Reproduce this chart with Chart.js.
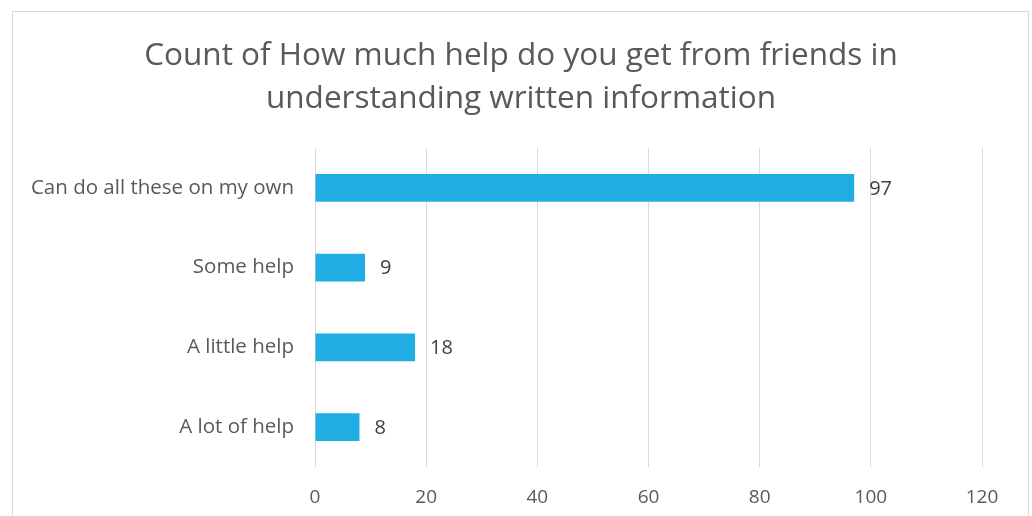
<!DOCTYPE html>
<html><head><meta charset="utf-8">
<script src="https://cdn.jsdelivr.net/npm/chart.js@4/dist/chart.umd.min.js"></script>
<style>
html,body{margin:0;padding:0;background:#fff;overflow:hidden;}
#frame{position:absolute;left:12px;top:11px;width:1017px;height:600px;border:1px solid #d9d9d9;box-sizing:border-box;}
#wrap{position:absolute;left:0;top:0;width:1032px;height:516px;}
</style></head>
<body>
<div id="frame"></div>
<div id="wrap"><canvas id="c" width="1032" height="516"></canvas></div>
<script>
const titleLines = ["Count of How much help do you get from friends in", "understanding written information"];
const categories = ["Can do all these on my own", "Some help", "A little help", "A lot of help"];
const counts = [97, 9, 18, 8];
const xMin = 0, xMax = 120, xStep = 20;

const FONT = "'Open Sans', sans-serif";
const TXT = '#595959';

const labelPlugin = {
  id: 'valueLabels',
  afterDatasetsDraw(chart) {
    const ctx = chart.ctx;
    const meta = chart.getDatasetMeta(0);
    ctx.save();
    ctx.font = "20px " + FONT;
    ctx.fillStyle = '#404040';
    ctx.textAlign = 'left';
    ctx.textBaseline = 'middle';
    meta.data.forEach((bar, i) => {
      ctx.fillText(String(counts[i]), bar.x + 15, bar.y + 1);
    });
    ctx.restore();
  }
};

new Chart(document.getElementById('c'), {
  type: 'bar',
  data: {
    labels: categories,
    datasets: [{
      data: counts,
      backgroundColor: '#1fade4',
      borderWidth: 0,
      barPercentage: 0.7,
      categoryPercentage: 0.5
    }]
  },
  options: {
    indexAxis: 'y',
    responsive: false,
    animation: false,
    layout: { padding: { left: 10, right: 0, top: 0, bottom: 0 } },
    plugins: {
      legend: { display: false },
      tooltip: { enabled: false },
      title: {
        display: true,
        text: titleLines,
        color: TXT,
        font: { family: FONT, size: 31.5, weight: 'normal', lineHeight: 1.365 },
        padding: { top: 35, bottom: 27 }
      }
    },
    scales: {
      x: {
        min: xMin, max: xMax,
        ticks: { stepSize: xStep, color: TXT, font: { family: FONT, size: 19 }, padding: 19 },
        grid: { color: '#d9d9d9', lineWidth: 1, drawTicks: false },
        border: { display: false },
        afterFit(s) { s.height = 49; }
      },
      y: {
        ticks: { color: TXT, font: { family: FONT, size: 20.5 }, padding: 21 },
        grid: { display: false, drawTicks: false },
        border: { display: false },
        afterFit(s) { s.width = 305; }
      },
      yRightSpace: {
        type: 'category',
        position: 'right',
        labels: categories,
        ticks: { display: false },
        grid: { display: false, drawTicks: false },
        border: { display: false },
        afterFit(s) { s.width = 50; }
      }
    }
  },
  plugins: [labelPlugin]
});
</script>
</body></html>
